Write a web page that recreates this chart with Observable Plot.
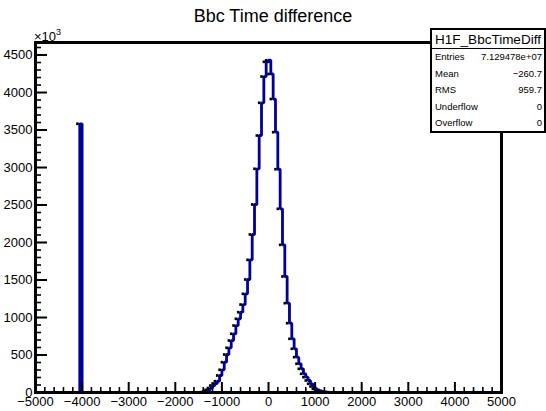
<!DOCTYPE html>
<html><head><meta charset="utf-8">
<script src="https://cdn.jsdelivr.net/npm/d3@7"></script>
<script src="https://cdn.jsdelivr.net/npm/@observablehq/plot@0.6"></script>
<style>
body{margin:0;background:#fff;}
#wrap{position:relative;width:546px;height:411px;font-family:"Liberation Sans",Arial,Helvetica,sans-serif;color:#000;overflow:hidden;}
#chart{position:absolute;left:0;top:0;}
#title{position:absolute;left:0;top:6px;width:546px;text-align:center;font-size:18px;line-height:20px;}
#mult{position:absolute;left:34px;top:30px;font-size:13px;line-height:13px;white-space:nowrap;}
#mult sup{font-size:9px;position:relative;top:-4px;vertical-align:top;}
#stats{position:absolute;left:430px;top:28px;width:112px;height:101px;border:2px solid #000;background:#fff;}
#stats .hd{height:18px;border-bottom:1.5px solid #000;font-size:13.5px;line-height:19px;text-align:center;white-space:nowrap;}
#stats .row{height:16.6px;font-size:9.5px;line-height:16.6px;padding:0 2px 0 3px;display:flex;justify-content:space-between;white-space:nowrap;}
</style></head>
<body>
<div id="wrap">
  <div id="chart"></div>
  <div id="title"></div>
  <div id="mult">×10<sup>3</sup></div>
  <div id="stats"></div>
</div>
<script>
// ---- data (y in units of 10^3 entries) ----
const titleText = "Bbc Time difference";
const histName = "H1F_BbcTimeDiff";
const statLabels = ["Entries", "Mean", "RMS", "Underflow", "Overflow"];
const statValues = ["7.129478e+07", "\u2212260.7", "959.7", "0", "0"];

const binWidth = 50;
const xMin = -5000, xMax = 5000;
const xTicks = [-5000, -4000, -3000, -2000, -1000, 0, 1000, 2000, 3000, 4000, 5000];
const yTicks = [0, 500, 1000, 1500, 2000, 2500, 3000, 3500, 4000, 4500];

// isolated spike bin
const spikeBinLeft = [-4050];
const spikeValues = [3583];

// central peak: bins starting at coreStart, one value per 50-wide bin
const coreStart = -1500;
const coreValues = [
  1, 2, 5, 15, 36, 60, 93, 120, 151, 227, 303, 404, 507, 596, 693, 783,
  893, 983, 1071, 1173, 1316, 1507, 1769, 2107, 2507, 2983, 3427, 3863, 4213, 4410,
  4430, 4247, 3913, 3471, 2977, 2449, 1969, 1547, 1191, 924, 716, 583, 471, 383,
  316, 249, 204, 160, 116, 80, 49, 32, 20, 12, 7, 4, 2, 1
];

// ---- build bins ----
const counts = new Map();
spikeBinLeft.forEach((x, i) => counts.set(x, spikeValues[i]));
coreValues.forEach((v, i) => counts.set(coreStart + i * binWidth, v));
const edges = d3.range(xMin, xMax, binWidth);
const bins = edges.map(x0 => ({x0, v: counts.get(x0) ?? 0}));
const linePts = bins.map(b => ({x: b.x0, v: b.v})).concat([{x: xMax, v: 0}]);

const yMinor = d3.range(0, 4700, 100).filter(d => d % 500 !== 0);
const xMinor = d3.range(xMin, xMax + 1, 200).filter(d => d % 1000 !== 0);

const W = 546, H = 411, mL = 35, mR = 45, mT = 42, mB = 19;
const pw = W - mL - mR, ph = H - mT - mB;

const chart = Plot.plot({
  width: W, height: H,
  marginLeft: mL, marginRight: mR, marginTop: mT, marginBottom: mB,
  x: {domain: [xMin, xMax]},
  y: {domain: [0, 4667]},
  style: {fontFamily: "'Liberation Sans', Arial, Helvetica, sans-serif", fontSize: "13px", background: "white", color: "black"},
  marks: [
    Plot.line(linePts, {x: "x", y: "v", curve: "step-after", stroke: "#000099", strokeWidth: 2.8, strokeLinejoin: "miter"}),
    Plot.dot(bins.filter(b => b.v > 0), {x: "x0", y: "v", symbol: "square", r: 1.5, fill: "black", dx: -2.3}),
    Plot.ruleY(yMinor, {insetRight: pw - 6, stroke: "black", strokeWidth: 1.6}),
    Plot.ruleY(yTicks, {insetRight: pw - 12, stroke: "black", strokeWidth: 2}),
    Plot.ruleX(xMinor, {insetTop: ph - 5, stroke: "black", strokeWidth: 1.6}),
    Plot.ruleX(xTicks, {insetTop: ph - 10, stroke: "black", strokeWidth: 2}),
    Plot.frame({stroke: "black", strokeWidth: 3}),
    Plot.axisX({ticks: xTicks, tickSize: 0, tickPadding: 4, tickFormat: d3.format("d"), label: null}),
    Plot.axisY({ticks: yTicks, tickSize: 0, tickPadding: 3, tickFormat: d3.format("d"), label: null})
  ]
});
document.getElementById("chart").appendChild(chart);

document.getElementById("title").textContent = titleText;
const stats = document.getElementById("stats");
const hd = document.createElement("div");
hd.className = "hd"; hd.textContent = histName;
stats.appendChild(hd);
statLabels.forEach((l, i) => {
  const r = document.createElement("div");
  r.className = "row";
  const a = document.createElement("span"); a.textContent = l;
  const b = document.createElement("span"); b.textContent = statValues[i];
  r.appendChild(a); r.appendChild(b);
  stats.appendChild(r);
});
</script>
</body></html>
